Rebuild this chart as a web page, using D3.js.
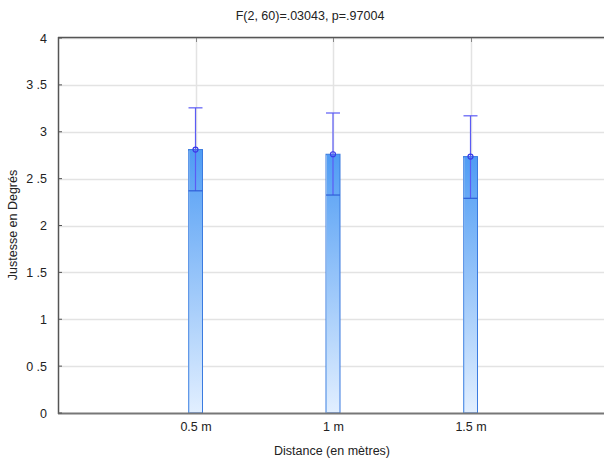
<!DOCTYPE html>
<html><head><meta charset="utf-8">
<script src="https://cdn.jsdelivr.net/npm/d3@7"></script>
<style>body{margin:0;background:#fff}svg{display:block;font-family:"Liberation Sans",Arial,sans-serif}</style>
</head><body><svg id="c" width="604" height="460"></svg>
<script>
const categories = ["0.5 m", "1 m", "1.5 m"];
const positions = [0.5, 1, 1.5];
const means = [2.81, 2.76, 2.735];
const upper = [3.255, 3.20, 3.17];
const lower = [2.37, 2.325, 2.29];
const yTicks = [0, 0.5, 1, 1.5, 2, 2.5, 3, 3.5, 4];
const yTickLabels = ["0", "0 .5", "1", "1 .5", "2", "2 .5", "3", "3 .5", "4"];
const title = "F(2, 60)=.03043, p=.97004";
const xTitle = "Distance (en mètres)";
const yTitle = "Justesse en Degrés";

const svg = d3.select("#c");
const x = d3.scaleLinear().domain([0, 2]).range([58, 608]);
const y = d3.scaleLinear().domain([0, 4]).range([413, 38]);

const defs = svg.append("defs");
const g = defs.append("linearGradient").attr("id","bg").attr("x1",0).attr("y1",0).attr("x2",0).attr("y2",1);
g.append("stop").attr("offset","0%").attr("stop-color","#4f9cf4");
g.append("stop").attr("offset","100%").attr("stop-color","#e2efff");

// grid
svg.append("g").selectAll("line").data(yTicks.slice(1)).join("line")
  .attr("x1", 58).attr("x2", 604).attr("y1", d => Math.round(y(d)) + 0.5).attr("y2", d => Math.round(y(d)) + 0.5)
  .attr("stroke", "#e3e3e3").attr("stroke-width", 1.5);
svg.append("g").selectAll("line").data(positions).join("line")
  .attr("x1", d => Math.round(x(d)) + 0.5).attr("x2", d => Math.round(x(d)) + 0.5).attr("y1", 38).attr("y2", 413)
  .attr("stroke", "#e3e3e3").attr("stroke-width", 1.5);
// top ticks
svg.append("g").selectAll("line").data(positions).join("line")
  .attr("x1", d => Math.round(x(d)) + 0.5).attr("x2", d => Math.round(x(d)) + 0.5).attr("y1", 38).attr("y2", 42)
  .attr("stroke", "#888").attr("stroke-width", 1);

// bars
const bw = 14;
svg.append("g").selectAll("rect").data(means).join("rect")
  .attr("x", (d,i) => x(positions[i]) - bw/2).attr("width", bw)
  .attr("y", d => y(d)).attr("height", d => y(0) - y(d))
  .attr("fill", "url(#bg)").attr("stroke", "#3a7be0").attr("stroke-width", 1);
// light left edge
svg.append("g").selectAll("line").data(means).join("line")
  .attr("x1", (d,i) => x(positions[i]) - bw/2 + 0.5).attr("x2", (d,i) => x(positions[i]) - bw/2 + 0.5)
  .attr("y1", d => y(d) + 1).attr("y2", y(0))
  .attr("stroke", "#8bb8f0").attr("stroke-width", 1);

// error bars
const eb = svg.append("g").attr("stroke", "#5b5bf5").attr("stroke-width", 1.2).attr("fill", "none");
positions.forEach((p, i) => {
  const cx = x(p);
  eb.append("line").attr("x1", cx).attr("x2", cx).attr("y1", y(upper[i])).attr("y2", y(lower[i]));
  eb.append("line").attr("x1", cx - 7).attr("x2", cx + 7).attr("y1", y(upper[i])).attr("y2", y(upper[i]));
  eb.append("line").attr("x1", cx - bw/2).attr("x2", cx + bw/2).attr("y1", y(lower[i])).attr("y2", y(lower[i])).attr("stroke", "#2e5fd8");
  eb.append("circle").attr("cx", cx).attr("cy", y(means[i])).attr("r", 2.5).attr("stroke", "#3a3ae8");
});

// axes frame
svg.append("line").attr("x1", 58).attr("x2", 604).attr("y1", 37.5).attr("y2", 37.5).attr("stroke", "#555").attr("stroke-width", 1.5);
svg.append("line").attr("x1", 58.5).attr("x2", 58.5).attr("y1", 37).attr("y2", 414).attr("stroke", "#555").attr("stroke-width", 1.5);
svg.append("line").attr("x1", 58).attr("x2", 604).attr("y1", 413.5).attr("y2", 413.5).attr("stroke", "#777").attr("stroke-width", 2);

// y ticks
const yAxis = d3.axisLeft(y).tickValues(yTicks).tickFormat((d,i) => yTickLabels[i]).tickSize(0).tickPadding(11);
const ya = svg.append("g").attr("transform", "translate(58,0)").call(yAxis);
ya.select(".domain").remove();
ya.selectAll("text").attr("font-size", 12.5).attr("fill", "#222").attr("font-family", "Liberation Sans, Arial, sans-serif");
svg.append("g").selectAll("line").data(yTicks).join("line")
  .attr("x1", 58).attr("x2", 62).attr("y1", d => y(d)).attr("y2", d => y(d)).attr("stroke", "#555");

// x ticks
const xAxis = d3.axisBottom(x).tickValues(positions).tickFormat((d,i) => categories[i]).tickSize(0).tickPadding(9);
const xa = svg.append("g").attr("transform", "translate(0,413)").call(xAxis);
xa.select(".domain").remove();
xa.selectAll("text").attr("font-size", 12.5).attr("fill", "#222").attr("font-family", "Liberation Sans, Arial, sans-serif");

// titles
svg.append("text").attr("x", 310).attr("y", 20).attr("text-anchor", "middle").attr("font-size", 12.5).attr("fill", "#222").text(title);
svg.append("text").attr("x", 332).attr("y", 455).attr("text-anchor", "middle").attr("font-size", 12.5).attr("fill", "#222").text(xTitle);
svg.append("text").attr("transform", "translate(17,225) rotate(-90)").attr("text-anchor", "middle").attr("font-size", 12.5).attr("fill", "#222").text(yTitle);
</script></body></html>
